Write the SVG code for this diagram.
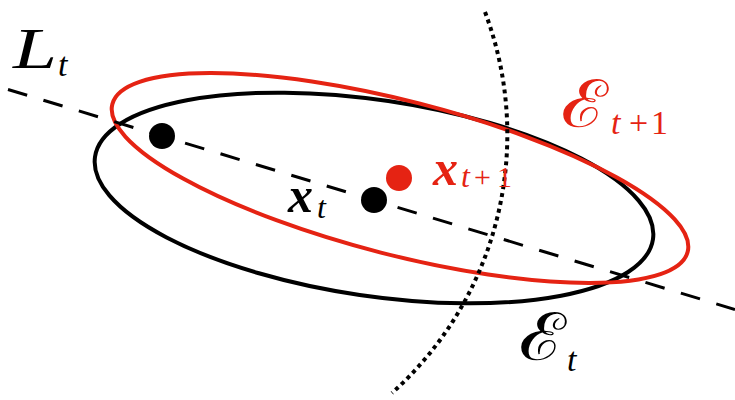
<svg xmlns="http://www.w3.org/2000/svg" width="735" height="400" viewBox="0 0 735 400">
<style>
.blk{fill:none;stroke:#000;stroke-width:4}
.red{fill:none;stroke:#e52313;stroke-width:4}
.dash{fill:none;stroke:#000;stroke-width:3;stroke-dasharray:20 17}
.dot{fill:none;stroke:#000;stroke-width:4;stroke-dasharray:4 4}
.t{font-family:"Liberation Serif","DejaVu Serif",serif;font-style:italic}
.n{font-family:"Liberation Serif","DejaVu Serif",serif;font-style:normal}
.cal{font-family:"DejaVu Serif","Liberation Serif","Noto Sans",serif;font-style:normal}
.r{fill:#e52313}
</style>
<rect width="735" height="400" fill="#fff"/>
<g id="ellipse-t">
<ellipse class="blk" cx="374" cy="198" rx="282" ry="98" transform="rotate(8.4 374 198)"/>
</g>
<g id="ellipse-t1">
<ellipse class="red" cx="400" cy="178" rx="297" ry="77" transform="rotate(14.4 400 178)"/>
</g>
<g id="connectors">
<line class="dash" x1="8" y1="89.5" x2="735" y2="309.5"/>
<path class="dot" d="M485,12 A347.3,347.3 0 0 1 392,393"/>
</g>
<g id="points">
<circle cx="162" cy="136" r="13" fill="#000"/>
<circle cx="374" cy="200" r="13" fill="#000"/>
<circle cx="399" cy="178" r="13" fill="#e52313"/>
</g>
<g id="label-Lt">
<text class="t" x="13" y="68" font-size="56" textLength="44" lengthAdjust="spacingAndGlyphs">L</text>
<text class="t" x="58" y="76" font-size="34">t</text>
</g>
<g id="label-xt">
<text class="t" x="288" y="212" font-size="50" font-weight="bold">x</text>
<text class="t" x="317" y="218" font-size="32">t</text>
</g>
<g id="label-xt1" class="r">
<text class="t" x="433" y="185" font-size="50" font-weight="bold">x</text>
<text class="t" x="461" y="187" font-size="32">t</text>
<text class="n" x="474" y="187" font-size="30">+</text>
<text class="n" x="497" y="187" font-size="30">1</text>
</g>
<g id="label-Et1" class="r">
<text class="cal" x="561" y="127" font-size="66" textLength="47" lengthAdjust="spacingAndGlyphs">ℰ</text>
<text class="t" x="611" y="134" font-size="34">t</text>
<text class="n" x="629" y="134" font-size="34">+</text>
<text class="n" x="651" y="134" font-size="34">1</text>
</g>
<g id="label-Et">
<text class="cal" x="519" y="360" font-size="66" textLength="47" lengthAdjust="spacingAndGlyphs">ℰ</text>
<text class="t" x="567" y="371" font-size="34">t</text>
</g>
</svg>
